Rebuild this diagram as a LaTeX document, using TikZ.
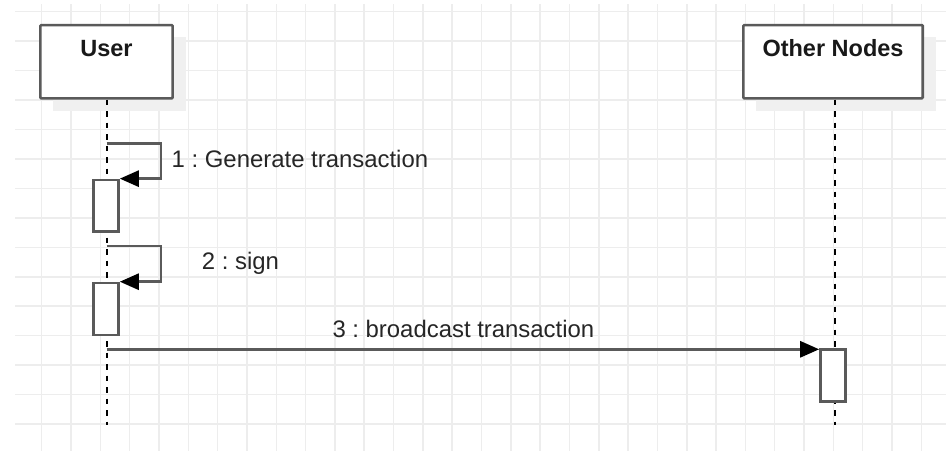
\documentclass[tikz,border=0pt]{standalone}
\usepackage{fontspec}
\setmainfont{Liberation Sans}
\usetikzlibrary{arrows.meta}
\definecolor{gridc}{HTML}{EDEDED}
\definecolor{linec}{HTML}{5A5A5A}
\definecolor{shadowc}{HTML}{F0F0F0}
\frenchspacing
\tikzset{
  headbox/.style={draw=linec, line width=2.6pt, fill=white, rounded corners=1pt, inner sep=0pt},
  actbox/.style={draw=linec, line width=2.6pt, fill=white, inner sep=0pt, minimum width=25pt},
  lifeline/.style={draw=black, line width=2pt, dash pattern=on 5.5pt off 6pt},
  msg/.style={draw=linec, line width=2.8pt, -{Triangle[length=19pt,width=16pt,color=black,fill=black]}},
  msglabel/.style={font=\fontsize{23.9pt}{28pt}\selectfont, text=black!85, inner sep=0pt, anchor=base west},
  headlabel/.style={font=\fontsize{23.5pt}{28pt}\selectfont\bfseries, text=black!90, inner sep=0pt, anchor=base}
}
\begin{document}
\begin{tikzpicture}[x=1pt,y=-1pt]
\useasboundingbox (0,0) rectangle (949,455);
\fill[white] (0,0) rectangle (949,455);
% grid
\foreach \k in {0,...,30} {
  \draw[gridc, line width=1.5pt] ({41.7+29.32*\k},4) -- ({41.7+29.32*\k},450.7);
}
\foreach \k in {0,...,14} {
  \draw[gridc, line width=1.5pt] (15,{11.7+29.45*\k}) -- (946,{11.7+29.45*\k});
}
% shadows
\fill[shadowc] (53,37) rectangle (185.5,110.5);
\fill[shadowc] (756,37) rectangle (935.5,110.5);
% header boxes
\node[headbox, minimum width=132.3pt, minimum height=73.3pt,
  label={[headlabel, yshift=-32.3pt]north:User}] (user) at (106.5,61.7) {};
\node[headbox, minimum width=179.4pt, minimum height=73.3pt,
  label={[headlabel, yshift=-32.3pt]north:Other Nodes}] (other) at (833,61.7) {};
% lifeline end points
\coordinate (userend) at (106.5,425);
\coordinate (otherend) at (834.5,425);
\draw[lifeline] (user.south) -- (userend);
\draw[lifeline] (other.south -| otherend) -- (otherend);
% activation boxes
\node[actbox, minimum height=51.7pt] (act1) at (106,205.8) {};
\node[actbox, minimum height=52pt] (act2) at (106,309) {};
\node[actbox, minimum height=52pt] (act3) at (833,375.3) {};
% messages
\coordinate (m1s) at (106.5,143.3);
\coordinate (m2s) at (106.5,246);
\coordinate (m3s) at (106.5,349.3);
\draw[msg] (m1s) -- ++(54.5,0) |- (act1.north east);
\draw[msg] (m2s) -- ++(54.5,0) |- (act2.north east);
\draw[msg] (m3s) -- (m3s -| act3.west);
% labels
\node[msglabel] (l1) at (171.5,167.3) {1 : Generate transaction};
\node[msglabel] (l2) at (201.7,269.3) {2 : sign};
\node[msglabel] (l3) at (332.3,337.3) {3 : broadcast transaction};
\end{tikzpicture}
\end{document}
